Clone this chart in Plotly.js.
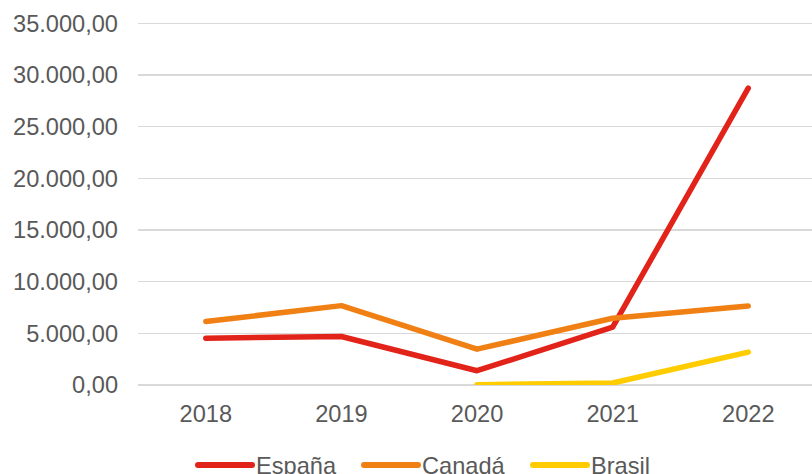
<!DOCTYPE html>
<html>
<head>
<meta charset="utf-8">
<script src="https://cdn.plot.ly/plotly-3.0.1.min.js"></script>
<style>
html,body{margin:0;padding:0;overflow:hidden;background:#fff}
.js-line{stroke-linecap:round;stroke-linejoin:round}
.shapelayer path{stroke-linecap:round}
</style>
</head>
<body>
<div id="chart" style="width:812px;height:474px"></div>
<script>
const years = ['2018', '2019', '2020', '2021', '2022'];
const espana = [4530, 4690, 1380, 5600, 28720];
const canada = [6140, 7680, 3470, 6460, 7650];
const brasilYears = ['2020', '2021', '2022'];
const brasil = [30, 190, 3180];
const seriesNames = ['España', 'Canadá', 'Brasil'];
const seriesColors = ['#E2231A', '#F08014', '#FFCC00'];

const font = {family: 'Liberation Sans, Arial, sans-serif', size: 23.6, color: '#595959'};

const traces = [
  {x: years, y: espana, name: seriesNames[0]},
  {x: years, y: canada, name: seriesNames[1]},
  {x: brasilYears, y: brasil, name: seriesNames[2]}
].map((t, i) => Object.assign(t, {
  type: 'scatter', mode: 'lines', hoverinfo: 'skip', showlegend: false,
  line: {color: seriesColors[i], width: 5.5}
}));

// plot area in pixels (layout only)
const W = 812, H = 474, L = 138, R = 0, T = 20, B = 89;
const pw = W - L - R, ph = H - T - B;
const px2x = p => (p - L) / pw;
const py2y = p => (H - B - p) / ph;

// custom legend (long Excel-style line keys)
const legendLineX = [[198, 252], [364, 418], [533, 587]];
const legendLineY = 465;
const shapes = [], annotations = [];
seriesNames.forEach((name, i) => {
  shapes.push({
    type: 'line', xref: 'paper', yref: 'paper',
    x0: px2x(legendLineX[i][0]), x1: px2x(legendLineX[i][1]),
    y0: py2y(legendLineY), y1: py2y(legendLineY),
    line: {color: seriesColors[i], width: 6}
  });
  annotations.push({
    xref: 'paper', yref: 'paper', x: px2x(legendLineX[i][1] + 3), y: py2y(legendLineY + 1),
    xanchor: 'left', yanchor: 'middle', showarrow: false, text: name, font: font,
    borderpad: 0
  });
});

const layout = {
  width: W, height: H,
  margin: {l: L, r: R, t: T, b: B},
  paper_bgcolor: '#fff', plot_bgcolor: '#fff',
  separators: ',.',
  font: font,
  showlegend: false,
  shapes: shapes,
  annotations: annotations,
  xaxis: {
    type: 'category', categoryorder: 'array', categoryarray: years,
    range: [-0.5, 4.47], showgrid: false, zeroline: false,
    showline: false, ticks: '', tickfont: font, ticklabelstandoff: 12
  },
  yaxis: {
    range: [0, 35320], tickvals: [0, 5000, 10000, 15000, 20000, 25000, 30000, 35000],
    tickformat: ',.2f', showgrid: true, gridcolor: '#D9D9D9', gridwidth: 1.5,
    zeroline: true, zerolinecolor: '#D9D9D9', zerolinewidth: 1.5,
    showline: false, ticks: '', tickfont: font, ticklabelstandoff: 19
  }
};

Plotly.newPlot('chart', traces, layout, {displayModeBar: false, staticPlot: true});
</script>
</body>
</html>
